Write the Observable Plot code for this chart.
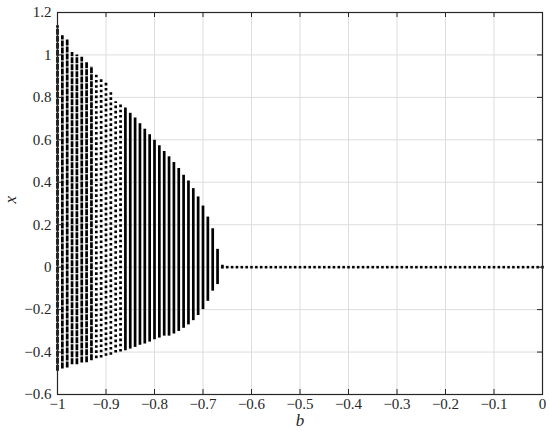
<!DOCTYPE html>
<html>
<head>
<meta charset="utf-8">
<script src="https://cdn.jsdelivr.net/npm/d3@7"></script>
<script src="https://cdn.jsdelivr.net/npm/@observablehq/plot@0.6"></script>
<style>
  html, body { margin: 0; padding: 0; background: #fff; }
  #chart { width: 550px; height: 438px; }
  #chart svg, #chart svg text { font-family: "Liberation Serif", "DejaVu Serif", serif !important; }
</style>
</head>
<body>
<div id="chart"></div>
<script>
// Parameter values of the chaotic columns
const bChaos = [-1.00, -0.99, -0.98, -0.97, -0.96, -0.95, -0.94, -0.93, -0.92, -0.91,
                -0.90, -0.89, -0.88, -0.87, -0.86, -0.85, -0.84, -0.83, -0.82, -0.81,
                -0.80, -0.79, -0.78, -0.77, -0.76, -0.75, -0.74, -0.73, -0.72, -0.71,
                -0.70, -0.69, -0.68, -0.67, -0.66];
// Upper edge of x in each column
const xTop = [1.138, 1.091, 1.071, 1.012, 1.000, 0.989, 0.965, 0.946, 0.907, 0.883,
              0.868, 0.823, 0.780, 0.765, 0.750, 0.725, 0.703, 0.676, 0.650, 0.624,
              0.598, 0.572, 0.545, 0.520, 0.493, 0.465, 0.433, 0.406, 0.370, 0.331,
              0.288, 0.236, 0.181, 0.084, 0.009];
// Lower edge of x in each column
const xBottom = [-0.490, -0.480, -0.475, -0.460, -0.460, -0.452, -0.450, -0.441, -0.431, -0.428,
                 -0.420, -0.415, -0.405, -0.400, -0.394, -0.386, -0.378, -0.368, -0.362, -0.353,
                 -0.342, -0.334, -0.325, -0.325, -0.315, -0.303, -0.288, -0.272, -0.252, -0.228,
                 -0.200, -0.161, -0.113, -0.082, -0.009];
// How densely each column is filled with points
const density = ["dense", "dense", "dense", "dense", "dense", "dense", "dense", "dense", "sparse", "sparse",
                 "sparse", "sparse", "sparse", "sparse", "solid", "solid", "solid", "solid", "solid", "solid",
                 "solid", "solid", "solid", "solid", "solid", "solid", "solid", "solid", "solid", "solid",
                 "solid", "solid", "solid", "solid", "solid"];
// Fixed point branch x = 0
const bFixed = [-0.65, -0.64, -0.63, -0.62, -0.61, -0.60, -0.59, -0.58, -0.57, -0.56,
                -0.55, -0.54, -0.53, -0.52, -0.51, -0.50, -0.49, -0.48, -0.47, -0.46,
                -0.45, -0.44, -0.43, -0.42, -0.41, -0.40, -0.39, -0.38, -0.37, -0.36,
                -0.35, -0.34, -0.33, -0.32, -0.31, -0.30, -0.29, -0.28, -0.27, -0.26,
                -0.25, -0.24, -0.23, -0.22, -0.21, -0.20, -0.19, -0.18, -0.17, -0.16,
                -0.15, -0.14, -0.13, -0.12, -0.11, -0.10, -0.09, -0.08, -0.07, -0.06,
                -0.05, -0.04, -0.03, -0.02, -0.01, 0.00];
const xFixed = [0, 0, 0, 0, 0, 0, 0, 0, 0, 0,
                0, 0, 0, 0, 0, 0, 0, 0, 0, 0,
                0, 0, 0, 0, 0, 0, 0, 0, 0, 0,
                0, 0, 0, 0, 0, 0, 0, 0, 0, 0,
                0, 0, 0, 0, 0, 0, 0, 0, 0, 0,
                0, 0, 0, 0, 0, 0, 0, 0, 0, 0,
                0, 0, 0, 0, 0, 0];
// Tick labels
const bTicks = [-1, -0.9, -0.8, -0.7, -0.6, -0.5, -0.4, -0.3, -0.2, -0.1, 0];
const xTicks = [-0.6, -0.4, -0.2, 0, 0.2, 0.4, 0.6, 0.8, 1, 1.2];

const cols = bChaos.map((b, i) => ({b, top: xTop[i], bottom: xBottom[i], density: density[i]}));
const fixed = bFixed.map((b, i) => ({b, x: xFixed[i]}));

const W = 550, H = 438;
const mL = 57, mR = 8, mT = 12, mB = 44;
const innerH = H - mT - mB, innerW = W - mL - mR;
const fmt = d => d === 0 ? "0" : (d < 0 ? "\u2212" : "") + String(Math.abs(d));
const ink = "#262626";
const dashes = {solid: null, dense: "6,1", sparse: "2.6,2.6"};

const columnMarks = ["solid", "dense", "sparse"].map(k =>
  Plot.ruleX(cols.filter(d => d.density === k), {
    x: "b", y1: "bottom", y2: "top",
    stroke: "black", strokeWidth: 2.7, strokeLinecap: "butt",
    strokeDasharray: dashes[k]
  })
);

const chart = Plot.plot({
  width: W, height: H,
  marginLeft: mL, marginRight: mR, marginTop: mT, marginBottom: mB,
  style: {fontSize: "15px", color: ink, background: "white"},
  x: {domain: [-1, 0]},
  y: {domain: [-0.6, 1.2]},
  marks: [
    Plot.gridX(bTicks, {stroke: "#dddddd", strokeOpacity: 1, strokeWidth: 1}),
    Plot.gridY(xTicks, {stroke: "#dddddd", strokeOpacity: 1, strokeWidth: 1}),
    ...columnMarks,
    Plot.dot(fixed, {x: "b", y: "x", symbol: "square", r: 1.45, fill: "black", stroke: null}),
    // inward ticks on all four sides
    Plot.tickX(bTicks, {x: d => d, insetTop: innerH - 5, stroke: ink}),
    Plot.tickX(bTicks, {x: d => d, insetBottom: innerH - 5, stroke: ink}),
    Plot.tickY(xTicks, {y: d => d, insetRight: innerW - 5, stroke: ink}),
    Plot.tickY(xTicks, {y: d => d, insetLeft: innerW - 5, stroke: ink}),
    Plot.axisX(bTicks, {tickSize: 0, tickPadding: 4, tickFormat: fmt, label: null, fill: ink, fontSize: 15}),
    Plot.axisY(xTicks, {tickSize: 0, tickPadding: 6, tickFormat: fmt, label: null, fill: ink, fontSize: 15}),
    Plot.frame({stroke: ink, strokeWidth: 1.2}),
    Plot.text(["b"], {frameAnchor: "bottom", dy: 31, text: d => d, fontStyle: "italic", fontSize: 17, fill: ink}),
    Plot.text(["x"], {frameAnchor: "left", dx: -47, text: d => d, rotate: -90, fontStyle: "italic", fontSize: 17, fill: ink})
  ]
});
document.getElementById("chart").append(chart);
</script>
</body>
</html>
